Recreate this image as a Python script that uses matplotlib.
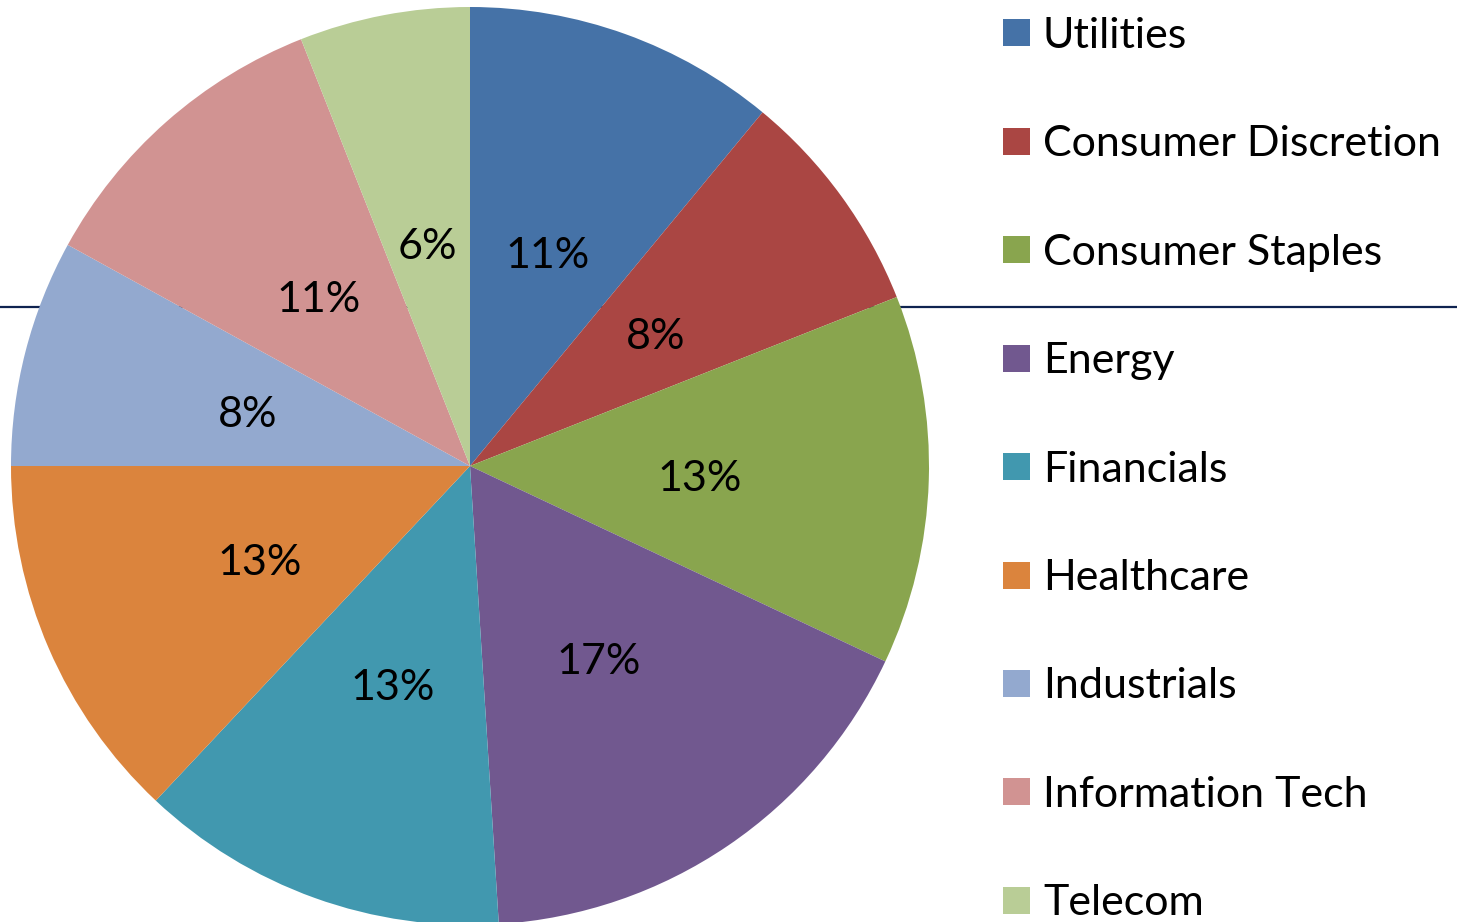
import matplotlib
matplotlib.use("Agg")
import matplotlib.pyplot as plt
import matplotlib.transforms as mtransforms
from matplotlib.patches import Rectangle
from matplotlib.lines import Line2D

sectors = ["Utilities", "Consumer Discretion", "Consumer Staples", "Energy",
           "Financials", "Healthcare", "Industrials", "Information Tech", "Telecom"]
shares = [11, 8, 13, 17, 13, 13, 8, 11, 6]
colors = ["#4572A7", "#AA4643", "#89A54E", "#71588F", "#4198AF",
          "#DB843D", "#93A9CF", "#D19392", "#B9CD96"]

plt.rcParams['font.family'] = ['Lato', 'DejaVu Sans']

W, H = 1457, 922
fig = plt.figure(figsize=(W / 100, H / 100), dpi=100)

# stray horizontal rule behind the pie
fig.add_artist(Line2D([0, 1], [1 - 307 / H, 1 - 307 / H], color="#0f2350",
                      lw=1.6, zorder=0.5, transform=fig.transFigure))

r = 459
cx, cy = 470, 466
ax = fig.add_axes([(cx - r) / W, (H - cy - r) / H, 2 * r / W, 2 * r / H], zorder=1)
ax.patch.set_visible(False)
wedges, texts, autotexts = ax.pie(
    shares, colors=colors, startangle=90, counterclock=False,
    autopct=lambda p: "%d%%" % round(p), pctdistance=0.5,
    textprops={"fontsize": 31, "color": "black"},
    wedgeprops={"linewidth": 0})
for t in autotexts:
    t.set_transform(mtransforms.offset_copy(t.get_transform(), fig=fig,
                                            x=0, y=-6, units="dots"))
ax.set_xlim(-1, 1)
ax.set_ylim(-1, 1)
ax.set_aspect("equal")
ax.axis("off")

# legend on the right
for i, (name, c) in enumerate(zip(sectors, colors)):
    yc = 33 + i * 108.4
    fig.add_artist(Rectangle((1003 / W, 1 - (yc + 13.5) / H), 27 / W, 27 / H,
                             facecolor=c, edgecolor="none", transform=fig.transFigure))
    fig.text(1043 / W, 1 - (yc + 3) / H, name, fontsize=31, va="center", ha="left")

fig.savefig("out.png", dpi=100)
